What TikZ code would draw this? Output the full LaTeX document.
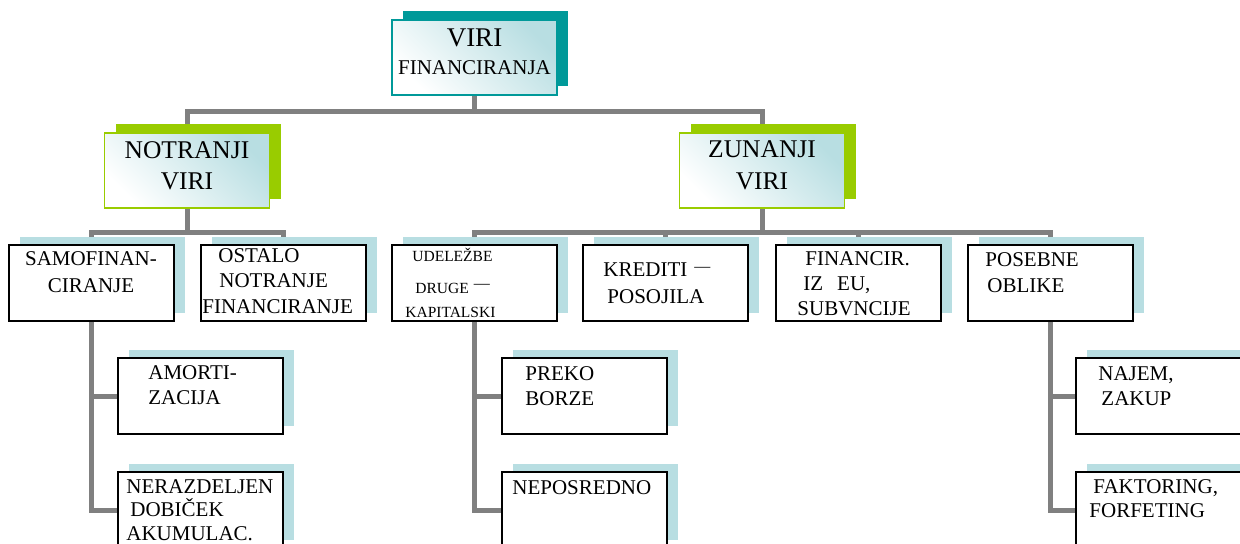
\documentclass[tikz,border=0pt]{standalone}
\usepackage{fontspec}
\setmainfont{Liberation Serif}
\usetikzlibrary{shadows,backgrounds}
\definecolor{linegray}{RGB}{128,128,128}
\definecolor{tealshade}{RGB}{0,153,153}
\definecolor{greenshade}{RGB}{153,204,0}
\definecolor{paleblue}{RGB}{184,222,226}

\begin{document}
\begin{tikzpicture}[x=0.5pt, y=-0.5pt,
    conn/.style={draw=linegray, line width=2.5pt},
    headbox/.style={draw=#1, line width=0.8pt, minimum width=82.5pt, minimum height=37.5pt,
        inner sep=0pt, top color=paleblue, bottom color=white, shading angle=-45,
        drop shadow={fill=#1, opacity=1, shadow xshift=5.5pt, shadow yshift=4.5pt}},
    itembox/.style={draw=black, line width=1pt, fill=white, minimum width=82.5pt,
        minimum height=38pt, inner sep=0pt,
        drop shadow={fill=paleblue, opacity=1, shadow xshift=5.5pt, shadow yshift=4pt}},
    txt/.style={anchor=base west, inner sep=0pt, align=left, text width=85pt,
        font=\fontsize{10.5}{12.5}\selectfont},
    headtxt/.style={anchor=base, inner sep=0pt, align=center, text width=82pt}]

    % Define the dash used in two boxes
    \def\boxdash{\raisebox{2.5pt}{\fontsize{8}{8}\selectfont —}}

    % Fix the page size
    \useasboundingbox (0,0) rectangle (1240,543);

    % 1. Top and second level boxes
    \node[headbox=tealshade] (viri) at (474.5,57.5) {};
    \node[headbox=greenshade] (notr) at (187,170.5) {};
    \node[headbox=greenshade] (zun) at (762,170.5) {};

    % 2. Third level boxes
    \node[itembox] (samo) at (91,283) {};
    \node[itembox] (ostalo) at (283,283) {};
    \node[itembox] (udel) at (474.5,283) {};
    \node[itembox] (kred) at (665.5,283) {};
    \node[itembox] (fin) at (858,283) {};
    \node[itembox] (pos) at (1050,283) {};

    % 3. Bottom boxes
    \node[itembox] (amort) at (200.5,396) {};
    \node[itembox] (neraz) at (200.5,510) {};
    \node[itembox] (preko) at (584.5,396) {};
    \node[itembox] (nepos) at (584.5,510) {};
    \node[itembox] (najem) at (1158.5,396) {};
    \node[itembox] (fakt) at (1158.5,510) {};

    % 4. Texts
    \node[headtxt, font=\fontsize{10.5}{14}\selectfont] (viri-t) at (474.5,46)
        {{\fontsize{13.5}{14}\selectfont VIRI\hspace*{10pt}}\\FINANCIRANJA};
    \node[headtxt, font=\fontsize{12.75}{15.5}\selectfont] (notr-t) at (187,158)
        {NOTRANJI\\VIRI\hspace*{8pt}};
    \node[headtxt, font=\fontsize{12.75}{16}\selectfont] (zun-t) at (762,157)
        {ZUNANJI\\VIRI};

    \node[headtxt, font=\fontsize{10.5}{13.5}\selectfont] (samo-t) at (91,265)
        {SAMOFINAN-\\CIRANJE};
    \node[txt, font=\fontsize{10.5}{12.75}\selectfont] (ostalo-t) at (202,262)
        {\hspace*{8pt}OSTALO\\\hspace*{8.5pt}NOTRANJE\\FINANCIRANJE};
    \node[txt, font=\fontsize{7.75}{12}\selectfont] (udel-t) at (405,261)
        {\hspace*{3.5pt}UDELEŽBE\\[4pt]\hspace*{5pt}DRUGE \boxdash\\KAPITALSKI};
    \node[txt, font=\fontsize{10.5}{13.5}\selectfont] (kred-t) at (603,276)
        {KREDITI \boxdash\\\hspace*{2pt}POSOJILA};
    \node[txt] (fin-t) at (797,265)
        {\hspace*{4pt}FINANCIR.\\\hspace*{3pt}IZ\ \ EU,\\SUBVNCIJE};
    \node[txt, font=\fontsize{10.5}{13}\selectfont] (pos-t) at (985,266)
        {POSEBNE\\\hspace*{1pt}OBLIKE};

    \node[txt] (amort-t) at (148,379) {AMORTI-\\ZACIJA};
    \node[txt, font=\fontsize{10.5}{11.75}\selectfont] (neraz-t) at (126,493)
        {NERAZDELJEN\\\hspace*{2pt}DOBIČEK\\AKUMULAC.};
    \node[txt] (preko-t) at (525,380) {PREKO\\BORZE};
    \node[txt] (nepos-t) at (512,494) {NEPOSREDNO};
    \node[txt] (najem-t) at (1098,380) {NAJEM,\\\hspace*{1.5pt}ZAKUP};
    \node[txt, font=\fontsize{10.5}{12}\selectfont] (fakt-t) at (1089,493)
        {\hspace*{2pt}FAKTORING,\\FORFETING};

    % 5. Connectors (behind the boxes)
    \begin{scope}[on background layer]
        \draw[conn] (viri.south) -- ++(0,16) -| (notr.north);
        \draw[conn] (viri.south) ++(0,16) -| (zun.north);
        \draw[conn] (notr.south) -- ++(0,24) -| (samo.north);
        \draw[conn] (notr.south) ++(0,24) -| (ostalo.north);
        \draw[conn] (zun.south) -- ++(0,24) -| (udel.north);
        \foreach \k in {kred,fin,pos}
            \draw[conn] (zun.south) ++(0,24) -| (\k.north);
        \foreach \p/\c in {samo/amort, samo/neraz, udel/preko, udel/nepos, pos/najem, pos/fakt}
            \draw[conn] (\p.south) |- (\c.west);
    \end{scope}

\end{tikzpicture}
\end{document}
